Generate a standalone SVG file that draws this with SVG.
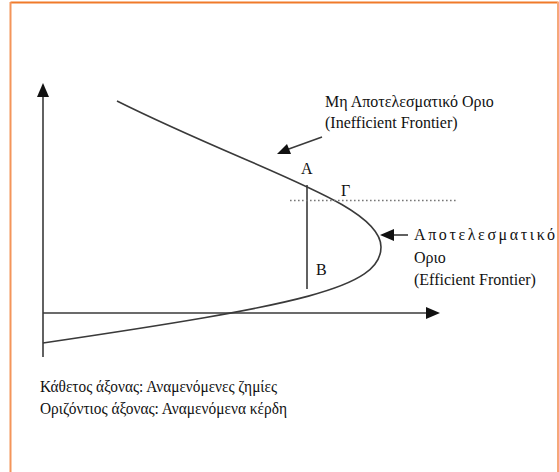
<svg xmlns="http://www.w3.org/2000/svg" width="559" height="472" viewBox="0 0 559 472">
<style>
.ln{stroke:#3a3a3a;stroke-width:1.6;fill:none}
.ah{fill:#111}
</style>
<rect width="559" height="472" fill="#fff"/>
<g id="frame">
<line x1="10.5" y1="2.5" x2="558.5" y2="2.5" stroke="#f07a2a" stroke-width="2"/>
<line x1="10.5" y1="2" x2="10.5" y2="472" stroke="#f4955a" stroke-width="2"/>
<line x1="558" y1="2" x2="558" y2="472" stroke="#f6a77a" stroke-width="2"/>
</g>
<g id="axes">
<line class="ln" x1="43" y1="95" x2="43" y2="357"/>
<polygon class="ah" points="43,83 37,97 49,97"/>
<line class="ln" x1="43" y1="313" x2="428" y2="313"/>
<polygon class="ah" points="440,313 426,307 426,319"/>
</g>
<g id="frontier">
<path class="ln" d="M117,101 C255,170 381,204 381,247 C381,288 300,305 43,343"/>
</g>
<g id="guides">
<line class="ln" x1="307" y1="185" x2="307" y2="289"/>
<line x1="290" y1="200.5" x2="456" y2="200.5" stroke="#777" stroke-width="1.6" stroke-dasharray="1.6,2.4"/>
</g>
<g id="connectors">
<line class="ln" x1="322" y1="137" x2="286" y2="150"/>
<polygon class="ah" points="277,154 287,144 291,154"/>
<line class="ln" x1="408" y1="235" x2="392" y2="235"/>
<polygon class="ah" points="380,235 394,229 394,241"/>
</g>
<g id="labels" font-family="Liberation Serif, DejaVu Serif, serif" fill="#111" font-size="16">
<text x="325" y="107">Μη Αποτελεσματικό Οριο</text>
<text x="325" y="128">(Inefficient Frontier)</text>
<text x="301" y="174">A</text>
<text x="341" y="196">Γ</text>
<text x="316" y="275">B</text>
<text x="414" y="240" textLength="141" lengthAdjust="spacing">Αποτελεσματικό</text>
<text x="414" y="263">Οριο</text>
<text x="414" y="285">(Efficient Frontier)</text>
<text x="40" y="392" textLength="237" lengthAdjust="spacingAndGlyphs">Κάθετος άξονας: Αναμενόμενες ζημίες</text>
<text x="40" y="414" textLength="247" lengthAdjust="spacingAndGlyphs">Οριζόντιος άξονας: Αναμενόμενα κέρδη</text>
</g>
</svg>
